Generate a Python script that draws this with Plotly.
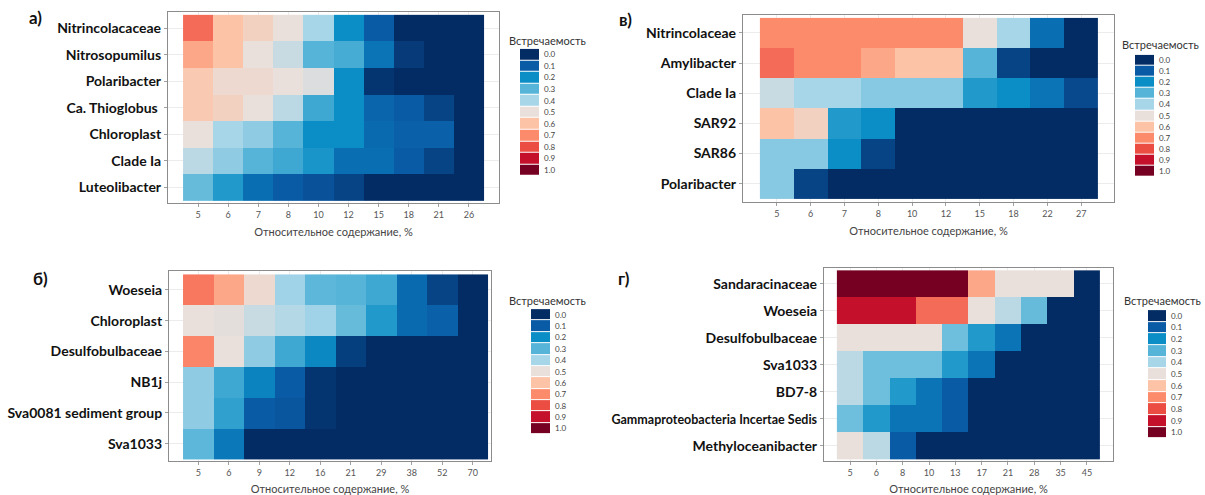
import plotly.graph_objects as go

W, H = 1205, 495

# ---------------- data ----------------
A_ROWS = ["Nitrincolacaceae", "Nitrosopumilus", "Polaribacter", "Ca. Thioglobus\u00a0",
          "Chloroplast", "Clade Ia", "Luteolibacter"]
A_COLS = ["5", "6", "7", "8", "10", "12", "15", "18", "21", "26"]
A_VALUES = [
    [0.75, 0.60, 0.55, 0.50, 0.40, 0.20, 0.10, 0.00, 0.00, 0.00],
    [0.65, 0.60, 0.50, 0.45, 0.30, 0.28, 0.15, 0.03, 0.00, 0.00],
    [0.58, 0.52, 0.52, 0.50, 0.48, 0.20, 0.02, 0.00, 0.00, 0.00],
    [0.58, 0.55, 0.50, 0.43, 0.27, 0.20, 0.12, 0.10, 0.05, 0.00],
    [0.50, 0.40, 0.37, 0.30, 0.20, 0.20, 0.13, 0.11, 0.11, 0.00],
    [0.43, 0.37, 0.30, 0.27, 0.22, 0.14, 0.14, 0.10, 0.05, 0.00],
    [0.32, 0.23, 0.14, 0.10, 0.08, 0.05, 0.00, 0.00, 0.00, 0.00],
]

B_ROWS = ["Woeseia", "Chloroplast", "Desulfobulbaceae", "NB1j",
          "Sva0081 sediment group", "Sva1033"]
B_COLS = ["5", "6", "9", "12", "16", "21", "29", "38", "52", "70"]
B_VALUES = [
    [0.73, 0.65, 0.52, 0.39, 0.31, 0.30, 0.27, 0.13, 0.05, 0.00],
    [0.50, 0.49, 0.45, 0.42, 0.39, 0.32, 0.23, 0.13, 0.11, 0.00],
    [0.71, 0.50, 0.37, 0.27, 0.19, 0.04, 0.00, 0.00, 0.00, 0.00],
    [0.37, 0.27, 0.18, 0.10, 0.02, 0.00, 0.00, 0.00, 0.00, 0.00],
    [0.37, 0.25, 0.10, 0.09, 0.02, 0.00, 0.00, 0.00, 0.00, 0.00],
    [0.31, 0.16, 0.00, 0.00, 0.00, 0.00, 0.00, 0.00, 0.00, 0.00],
]

V_ROWS = ["Nitrincolaceae", "Amylibacter", "Clade Ia", "SAR92", "SAR86", "Polaribacter"]
V_COLS = ["5", "6", "7", "8", "10", "12", "15", "18", "22", "27"]
V_VALUES = [
    [0.70, 0.70, 0.70, 0.70, 0.70, 0.70, 0.50, 0.40, 0.14, 0.00],
    [0.75, 0.70, 0.70, 0.65, 0.60, 0.60, 0.30, 0.05, 0.00, 0.00],
    [0.45, 0.40, 0.40, 0.36, 0.36, 0.36, 0.23, 0.20, 0.15, 0.06],
    [0.60, 0.55, 0.23, 0.20, 0.00, 0.00, 0.00, 0.00, 0.00, 0.00],
    [0.36, 0.36, 0.20, 0.05, 0.00, 0.00, 0.00, 0.00, 0.00, 0.00],
    [0.36, 0.05, 0.00, 0.00, 0.00, 0.00, 0.00, 0.00, 0.00, 0.00],
]

G_ROWS = ["Sandaracinaceae", "Woeseia", "Desulfobulbaceae", "Sva1033", "BD7-8",
          "Gammaproteobacteria Incertae Sedis", "Methyloceanibacter"]
G_COLS = ["5", "6", "8", "10", "13", "17", "21", "28", "35", "45"]
G_VALUES = [
    [1.00, 1.00, 1.00, 1.00, 1.00, 0.65, 0.50, 0.50, 0.50, 0.00],
    [0.90, 0.90, 0.90, 0.75, 0.75, 0.50, 0.43, 0.32, 0.00, 0.00],
    [0.50, 0.50, 0.50, 0.50, 0.33, 0.23, 0.15, 0.00, 0.00, 0.00],
    [0.43, 0.33, 0.33, 0.33, 0.23, 0.15, 0.00, 0.00, 0.00, 0.00],
    [0.43, 0.33, 0.23, 0.15, 0.10, 0.00, 0.00, 0.00, 0.00, 0.00],
    [0.33, 0.23, 0.15, 0.15, 0.10, 0.00, 0.00, 0.00, 0.00, 0.00],
    [0.50, 0.43, 0.10, 0.00, 0.00, 0.00, 0.00, 0.00, 0.00, 0.00],
]

LEGEND_LEVELS = [0.0, 0.1, 0.2, 0.3, 0.4, 0.5, 0.6, 0.7, 0.8, 0.9, 1.0]
LEGEND_LABELS = ["0.0", "0.1", "0.2", "0.3", "0.4", "0.5", "0.6", "0.7", "0.8", "0.9", "1.0"]
LEGEND_TITLE = "Встречаемость"
X_TITLE = "Относительное содержание, %"
PANEL_LETTERS = ["а)", "б)", "в)", "г)"]

PALETTE = ["#042c64", "#0a5ba6", "#0b8dc5", "#55b4d8", "#a8d6e9", "#e9dfdb",
           "#fdc3a6", "#fc8b6c", "#eb4d42", "#c5102c", "#760021"]
COLORSCALE = [[i / 10, c] for i, c in enumerate(PALETTE)]

# ---------------- layout helpers ----------------
def fx(p):
    return p / W


def fy(p):
    return 1 - p / H


fig = go.Figure()

panels = [
    dict(rows=A_ROWS, cols=A_COLS, z=A_VALUES, box=(168, 499, 12, 204),
         xr=[-1.0, 10.0], yr=[6.575, -0.61], letter=(35, 18), legend=(520, 539, 49, 177), ltitle=(547, 41)),
    dict(rows=B_ROWS, cols=B_COLS, z=B_VALUES, box=(169, 491, 273, 464),
         xr=[-0.96, 9.6], yr=[5.565, -0.6], letter=(40, 280), legend=(531, 550, 311, 437), ltitle=(547, 302)),
    dict(rows=V_ROWS, cols=V_COLS, z=V_VALUES, box=(743, 1114, 15, 203),
         xr=[-1.0, 9.97], yr=[5.6, -0.6], letter=(625, 20), legend=(1135, 1154, 55, 178), ltitle=(1160, 45)),
    dict(rows=G_ROWS, cols=G_COLS, z=G_VALUES, box=(824, 1113, 270, 464),
         xr=[-0.99, 9.99], yr=[6.574, -0.574], letter=(624, 280), legend=(1148, 1166, 312, 441), ltitle=(1162, 302)),
]

label_font = dict(family="Lato", size=14, color="#111111", weight="bold")
annotations = []
for i, p in enumerate(panels):
    k = i + 1
    xa = "x" if k == 1 else f"x{k}"
    ya = "y" if k == 1 else f"y{k}"
    fig.add_trace(go.Heatmap(
        z=p["z"], x=p["cols"], y=p["rows"], xaxis=xa, yaxis=ya,
        colorscale=COLORSCALE, zmin=0, zmax=1, showscale=False,
        hovertemplate="%{y}<br>%{x}%: %{z}<extra></extra>",
    ))
    x0, x1, y0, y1 = p["box"]
    ticktext = []
    for r in p["rows"]:
        if len(r) > 25:
            ticktext.append(f"<span style='font-size:12.5px'>{r}</span>")
        else:
            ticktext.append(r)
    common = dict(showline=True, mirror=True, linecolor="#8c8c8c", linewidth=1.2,
                  showgrid=True, gridcolor="#ececec", gridwidth=1, zeroline=False,
                  ticks="outside", ticklen=3, tickcolor="#a0a0a0", type="category")
    fig.layout[("xaxis" if k == 1 else f"xaxis{k}")] = dict(
        domain=[fx(x0), fx(x1)], anchor=ya, range=p["xr"],
        tickfont=dict(family="Lato", size=9, color="#555555"),
        title=dict(text=X_TITLE, font=dict(family="Lato", size=11, color="#444444"), standoff=9),
        **common)
    fig.layout[("yaxis" if k == 1 else f"yaxis{k}")] = dict(
        domain=[fy(y1), fy(y0)], anchor=xa, range=p["yr"],
        tickvals=p["rows"], ticktext=ticktext, tickfont=label_font,
        **common)

    lk = k + 4
    lxa, lya = f"x{lk}", f"y{lk}"
    lx0, lx1, ly0, ly1 = p["legend"]
    fig.add_trace(go.Heatmap(
        z=[[v] for v in LEGEND_LEVELS], x=[0], y=LEGEND_LABELS, xaxis=lxa, yaxis=lya,
        colorscale=COLORSCALE, zmin=0, zmax=1, showscale=False, ygap=1,
        hoverinfo="skip",
    ))
    fig.layout[f"xaxis{lk}"] = dict(domain=[fx(lx0), fx(lx1)], anchor=lya,
                                    showticklabels=False, showgrid=False, zeroline=False,
                                    showline=False, ticks="")
    fig.layout[f"yaxis{lk}"] = dict(domain=[fy(ly1), fy(ly0)], anchor=lxa, side="right",
                                    type="category", autorange="reversed",
                                    showgrid=False, zeroline=False, showline=False, ticks="",
                                    ticklabelstandoff=4,
                                    tickfont=dict(family="Lato", size=8, color="#444444"))
    tx, ty = p["ltitle"]
    annotations.append(dict(text=LEGEND_TITLE, x=fx(tx), y=fy(ty), xref="paper", yref="paper",
                            showarrow=False, xanchor="center", yanchor="middle",
                            font=dict(family="Lato", size=11, color="#333333")))
    lx, lyy = p["letter"]
    annotations.append(dict(text=PANEL_LETTERS[i], x=fx(lx), y=fy(lyy), xref="paper", yref="paper",
                            showarrow=False, xanchor="center", yanchor="middle",
                            font=dict(family="Lato", size=17, color="#111111", weight="bold")))

fig.update_layout(width=W, height=H, margin=dict(l=0, r=0, t=0, b=0),
                  paper_bgcolor="white", plot_bgcolor="white",
                  annotations=annotations, showlegend=False)

fig.write_html("out.html")
